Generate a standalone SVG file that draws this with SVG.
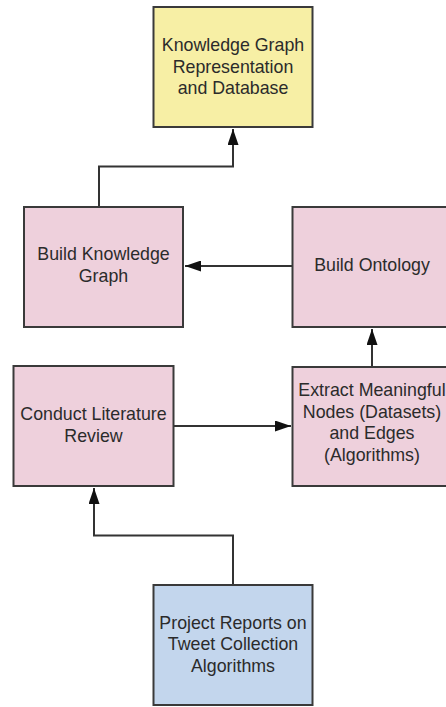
<svg xmlns="http://www.w3.org/2000/svg" width="446" height="707" viewBox="0 0 446 707">
<style>
.box{stroke:#3a3a3a;stroke-width:2}
.y{fill:#f7efa5}
.p{fill:#eed0dc}
.b{fill:#c3d6ed}
text{font-family:"Liberation Sans",Arial,sans-serif;font-size:17.8px;fill:#2b2b2b;text-anchor:middle}
.c{fill:none;stroke:#333;stroke-width:2}
</style>
<defs>
<marker id="ah" viewBox="0 0 16 11" refX="16" refY="5.5" markerWidth="16" markerHeight="11" markerUnits="userSpaceOnUse" orient="auto">
<path d="M0,0 L16,5.5 L0,11 Z" fill="#111"/>
</marker>
</defs>
<rect width="446" height="707" fill="#fff"/>
<g id="connectors">
<path class="c" d="M99,207 V166.5 H233 V129" marker-end="url(#ah)"/>
<path class="c" d="M292.5,266 H185" marker-end="url(#ah)"/>
<path class="c" d="M372,367 V329" marker-end="url(#ah)"/>
<path class="c" d="M173.5,426 H291" marker-end="url(#ah)"/>
<path class="c" d="M233,585 V535.5 H94 V488" marker-end="url(#ah)"/>
</g>
<g id="kg">
<rect class="box y" x="153.5" y="7" width="159" height="120"/>
<text x="233" y="51">Knowledge Graph</text>
<text x="233" y="72.5">Representation</text>
<text x="233" y="94">and Database</text>
</g>
<g id="bkg">
<rect class="box p" x="24" y="207" width="159" height="120"/>
<text x="103.5" y="260">Build Knowledge</text>
<text x="103.5" y="281.5">Graph</text>
</g>
<g id="bo">
<rect class="box p" x="292.5" y="207" width="160" height="120"/>
<text x="372" y="271">Build Ontology</text>
</g>
<g id="clr">
<rect class="box p" x="13.5" y="366" width="160" height="120"/>
<text x="93.5" y="420">Conduct Literature</text>
<text x="93.5" y="441.5">Review</text>
</g>
<g id="extract">
<rect class="box p" x="292.5" y="367" width="160" height="119"/>
<text x="372" y="396">Extract Meaningful</text>
<text x="372" y="417.5">Nodes (Datasets)</text>
<text x="372" y="439">and Edges</text>
<text x="372" y="460.5">(Algorithms)</text>
</g>
<g id="pr">
<rect class="box b" x="153.5" y="585" width="159" height="120"/>
<text x="233" y="628.5">Project Reports on</text>
<text x="233" y="650">Tweet Collection</text>
<text x="233" y="671.5">Algorithms</text>
</g>
</svg>
